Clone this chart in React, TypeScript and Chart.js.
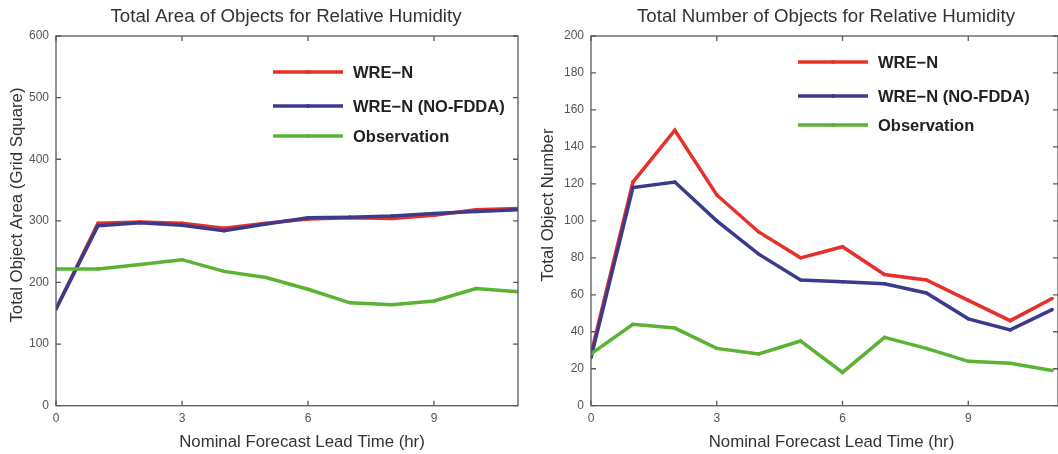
import React, { useEffect, useRef } from "react";
import { Chart, registerables } from "chart.js";

Chart.register(...registerables);

const hours = [0, 1, 2, 3, 4, 5, 6, 7, 8, 9, 10, 11];
const seriesNames = ["WRE−N", "WRE−N (NO-FDDA)", "Observation"];

const areaWren = [157, 296, 298, 296, 288, 296, 303, 305, 304, 309, 318, 320];
const areaNoFdda = [157, 292, 297, 293, 284, 295, 305, 306, 308, 312, 315, 318];
const areaObs = [222, 222, 229, 237, 218, 208, 189, 167, 164, 170, 190, 185];

const countWren = [28, 121, 149, 114, 94, 80, 86, 71, 68, 57, 46, 58];
const countNoFdda = [26, 118, 121, 100, 82, 68, 67, 66, 61, 47, 41, 52];
const countObs = [28, 44, 42, 31, 28, 35, 18, 37, 31, 24, 23, 19];

const xTicks = [0, 3, 6, 9];
const areaYTicks = [0, 100, 200, 300, 400, 500, 600];
const countYTicks = [0, 20, 40, 60, 80, 100, 120, 140, 160, 180, 200];

const xTitle = "Nominal Forecast Lead Time (hr)";

const COLORS = ["#e8302a", "#3c3a8c", "#5cb232"];
const FONT = "'Liberation Sans', Arial, sans-serif";

type PanelCfg = {
  title: string;
  yTitle: string;
  series: number[][];
  yTicks: number[];
  yMax: number;
  xMax: number;
  width: number;
  axisWidth: number;
  rightPad: number;
  titleX: number;
  xTitleX: number;
  yTitleX: number;
  legendX: number;
  legendRows: number[];
};

const boxPlugin = {
  id: "boxAndLegend",
  afterDraw(chart: any, _args: any, opts: any) {
    const { ctx, chartArea } = chart;
    const { left, right, top, bottom } = chartArea;
    const xs = chart.scales.x;
    const ys = chart.scales.y;
    ctx.save();
    ctx.strokeStyle = "#5a5a5a";
    ctx.lineWidth = 1.3;
    ctx.strokeRect(left, top, right - left, bottom - top);
    const tl = 5;
    ctx.beginPath();
    (opts.xTicks as number[]).forEach((v) => {
      const px = xs.getPixelForValue(v);
      ctx.moveTo(px, bottom);
      ctx.lineTo(px, bottom - tl);
      ctx.moveTo(px, top);
      ctx.lineTo(px, top + tl);
    });
    (opts.yTicks as number[]).forEach((v) => {
      const py = ys.getPixelForValue(v);
      ctx.moveTo(left, py);
      ctx.lineTo(left + tl, py);
      ctx.moveTo(right, py);
      ctx.lineTo(right - tl, py);
    });
    ctx.stroke();

    // titles
    ctx.fillStyle = "#333";
    ctx.textAlign = "center";
    ctx.textBaseline = "middle";
    ctx.font = `18.7px ${FONT}`;
    ctx.fillText(opts.title, opts.titleX, 17);
    ctx.font = `16.8px ${FONT}`;
    ctx.fillText(opts.xTitle, opts.xTitleX, 442);
    ctx.save();
    ctx.translate(opts.yTitleX, 205);
    ctx.rotate(-Math.PI / 2);
    ctx.fillText(opts.yTitle, 0, 0);
    ctx.restore();

    // legend inside the axes
    const lx = left + opts.legendX;
    ctx.font = `bold 16.5px ${FONT}`;
    ctx.textBaseline = "middle";
    ctx.textAlign = "left";
    (opts.names as string[]).forEach((name, i) => {
      const y = top + opts.legendRows[i];
      ctx.strokeStyle = COLORS[i];
      ctx.lineWidth = 3.5;
      ctx.beginPath();
      ctx.moveTo(lx, y);
      ctx.lineTo(lx + 70, y);
      ctx.stroke();
      ctx.fillStyle = COLORS[i];
      ctx.beginPath();
      ctx.arc(lx + 35, y, 2, 0, Math.PI * 2);
      ctx.fill();
      ctx.fillStyle = "#222";
      ctx.fillText(name, lx + 80, y + 1);
    });
    ctx.restore();
  },
};

function Panel({ cfg }: { cfg: PanelCfg }) {
  const ref = useRef<HTMLCanvasElement | null>(null);
  useEffect(() => {
    if (!ref.current) return;
    const order = [2, 1, 0];
    const chart = new Chart(ref.current, {
      type: "line",
      data: {
        labels: hours,
        datasets: cfg.series.map((s, i) => ({
          label: seriesNames[i],
          data: s.map((v, j) => ({ x: hours[j], y: v })),
          borderColor: COLORS[i],
          backgroundColor: COLORS[i],
          borderWidth: 3.5,
          pointRadius: 1.8,
          pointBorderWidth: 0,
          tension: 0,
          order: order[i],
        })),
      },
      options: {
        animation: false,
        responsive: false,
        events: [],
        layout: { padding: { top: 36, right: cfg.rightPad, bottom: 0, left: 0 } },
        plugins: {
          legend: { display: false },
          tooltip: { enabled: false },
          title: { display: false },
          boxAndLegend: {
            xTicks,
            yTicks: cfg.yTicks,
            names: seriesNames,
            legendX: cfg.legendX,
            legendRows: cfg.legendRows,
            title: cfg.title,
            titleX: cfg.titleX,
            xTitle,
            xTitleX: cfg.xTitleX,
            yTitle: cfg.yTitle,
            yTitleX: cfg.yTitleX,
          },
        } as any,
        scales: {
          x: {
            type: "linear",
            min: 0,
            max: cfg.xMax,
            afterBuildTicks: (s: any) => {
              s.ticks = xTicks.map((v) => ({ value: v }));
            },
            afterFit: (s: any) => {
              s.height = 48.3;
            },
            grid: { display: false, drawTicks: false },
            border: { display: false },
            ticks: { color: "#555", padding: 6, font: { family: FONT, size: 12 } },
          },
          y: {
            type: "linear",
            min: 0,
            max: cfg.yMax,
            afterBuildTicks: (s: any) => {
              s.ticks = cfg.yTicks.map((v) => ({ value: v }));
            },
            afterFit: (s: any) => {
              s.width = cfg.axisWidth;
            },
            grid: { display: false, drawTicks: false },
            border: { display: false },
            ticks: { color: "#555", padding: 7, font: { family: FONT, size: 12 } },
          },
        },
      },
      plugins: [boxPlugin],
    });
    return () => chart.destroy();
  }, [cfg]);
  return <canvas ref={ref} width={cfg.width} height={454} style={{ display: "block", flex: "none" }} />;
}

const leftCfg: PanelCfg = {
  title: "Total Area of Objects for Relative Humidity",
  yTitle: "Total Object Area (Grid Square)",
  series: [areaWren, areaNoFdda, areaObs],
  yTicks: areaYTicks,
  yMax: 600,
  xMax: 11,
  width: 529,
  axisWidth: 56,
  rightPad: 11,
  titleX: 286,
  xTitleX: 302,
  yTitleX: 17,
  legendX: 217,
  legendRows: [36, 70, 100],
};

const rightCfg: PanelCfg = {
  title: "Total Number of Objects for Relative Humidity",
  yTitle: "Total Object Number",
  series: [countWren, countNoFdda, countObs],
  yTicks: countYTicks,
  yMax: 200,
  xMax: 11.14,
  width: 533,
  axisWidth: 62,
  rightPad: 1,
  titleX: 297,
  xTitleX: 302.5,
  yTitleX: 19,
  legendX: 207,
  legendRows: [26, 60, 89],
};

export default function App() {
  return (
    <div
      style={{
        position: "absolute",
        left: 0,
        top: 0,
        width: 1058,
        height: 454,
        display: "flex",
        overflow: "hidden",
        background: "#fff",
      }}
    >
      <Panel cfg={leftCfg} />
      <Panel cfg={rightCfg} />
    </div>
  );
}
